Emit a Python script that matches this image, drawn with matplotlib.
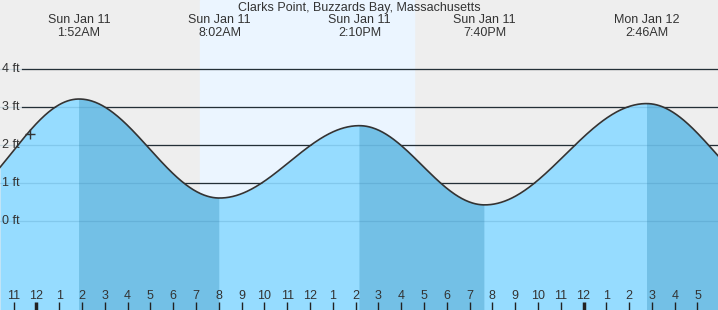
import numpy as np
import matplotlib
matplotlib.use('Agg')
import matplotlib.pyplot as plt

plt.rcParams['font.family'] = ['Liberation Sans', 'DejaVu Sans']

# hours since midnight Sun Jan 11
x_min, x_max = -1.6, 29.9
extreme_hours = [-4.0, 1.867, 8.033, 14.167, 19.667, 26.767, 32.8]
extreme_heights = [0.4, 3.2, 0.6, 2.5, 0.42, 3.08, 0.5]
label_hours = [1.867, 8.033, 14.167, 19.667, 26.767]
label_days = ['Sun Jan 11', 'Sun Jan 11', 'Sun Jan 11', 'Sun Jan 11', 'Mon Jan 12']
label_times = ['1:52AM', '8:02AM', '2:10PM', '7:40PM', '2:46AM']
sunrise, sunset = 7.17, 16.56
now_hour, now_height = -0.29, 2.29
y_ticks = [0, 1, 2, 3, 4]
title = 'Clarks Point, Buzzards Bay, Massachusetts'

# cosine interpolation between highs and lows
t = np.linspace(x_min, x_max, 800)
h = np.zeros_like(t)
for i in range(len(extreme_hours) - 1):
    t0, t1 = extreme_hours[i], extreme_hours[i + 1]
    h0, h1 = extreme_heights[i], extreme_heights[i + 1]
    m = (t >= t0) & (t <= t1)
    f = (1 - np.cos(np.pi * (t[m] - t0) / (t1 - t0))) / 2
    h[m] = h0 + (h1 - h0) * f

fig = plt.figure(figsize=(7.18, 3.10), dpi=100)
ax = fig.add_axes([0, 0, 1, 1])
ax.set_xlim(x_min, x_max)
y_bottom = -2.34
y_top = 5.8
ax.set_ylim(y_bottom, y_top)
ax.axis('off')
y_per_px = (y_top - y_bottom) / 310

ax.axvspan(x_min, x_max, color='#eeeeee', zorder=0)
ax.axvspan(sunrise, sunset, color='#ebf5ff', zorder=0)

x_line_start = x_min + 22 / 22.8
for yt in y_ticks:
    ax.plot([x_line_start, x_max], [yt, yt], color='#222222', lw=0.9, zorder=1)
    ax.text(x_min + 2 / 22.8, yt - 0.5 * y_per_px, f'{yt} ft', fontsize=9, color='#333333',
            va='center', ha='left', zorder=5)

# rising (light) and falling (dark) fills
falling = np.zeros_like(t, dtype=bool)
for i in range(len(extreme_hours) - 1):
    if extreme_heights[i] > extreme_heights[i + 1]:
        falling |= (t >= extreme_hours[i]) & (t <= extreme_hours[i + 1])
ax.fill_between(t, y_bottom, h, color='#96dcff', zorder=2, lw=0)
ax.fill_between(t, y_bottom, h, where=falling, color='#73c0e6', zorder=2, lw=0)
for yt in y_ticks:
    ax.plot([x_min, x_max], [yt, yt], color='#2a6f99', lw=0.9, alpha=0.18, zorder=3)
ax.plot(t, h, color='#333333', lw=1.2, zorder=4)
ax.plot(now_hour, now_height, marker='+', color='#333333', ms=7, mew=1.0, zorder=5)

# hour ticks and labels
for hr in range(-1, 30):
    lab = (hr - 1) % 12 + 1
    mid = hr % 24 == 0
    ax.plot([hr, hr], [y_bottom, y_bottom + 8 * y_per_px], color='#222222',
            lw=2.5 if mid else 1.0, zorder=5, solid_capstyle='butt')
    ax.text(hr, y_bottom + 14 * y_per_px, str(lab), fontsize=9, color='#333333',
            ha='center', va='center', zorder=5)

ax.text((x_min + x_max) / 2, y_top - 7.5 * y_per_px, title, fontsize=9, color='#333333',
        ha='center', va='center', zorder=5)
for hr, d, tm in zip(label_hours, label_days, label_times):
    ax.text(hr, y_top - 19.5 * y_per_px, d, fontsize=9, color='#333333',
            ha='center', va='center', zorder=5)
    ax.text(hr, y_top - 32.5 * y_per_px, tm, fontsize=9, color='#333333',
            ha='center', va='center', zorder=5)

fig.savefig('out.png', dpi=100)
